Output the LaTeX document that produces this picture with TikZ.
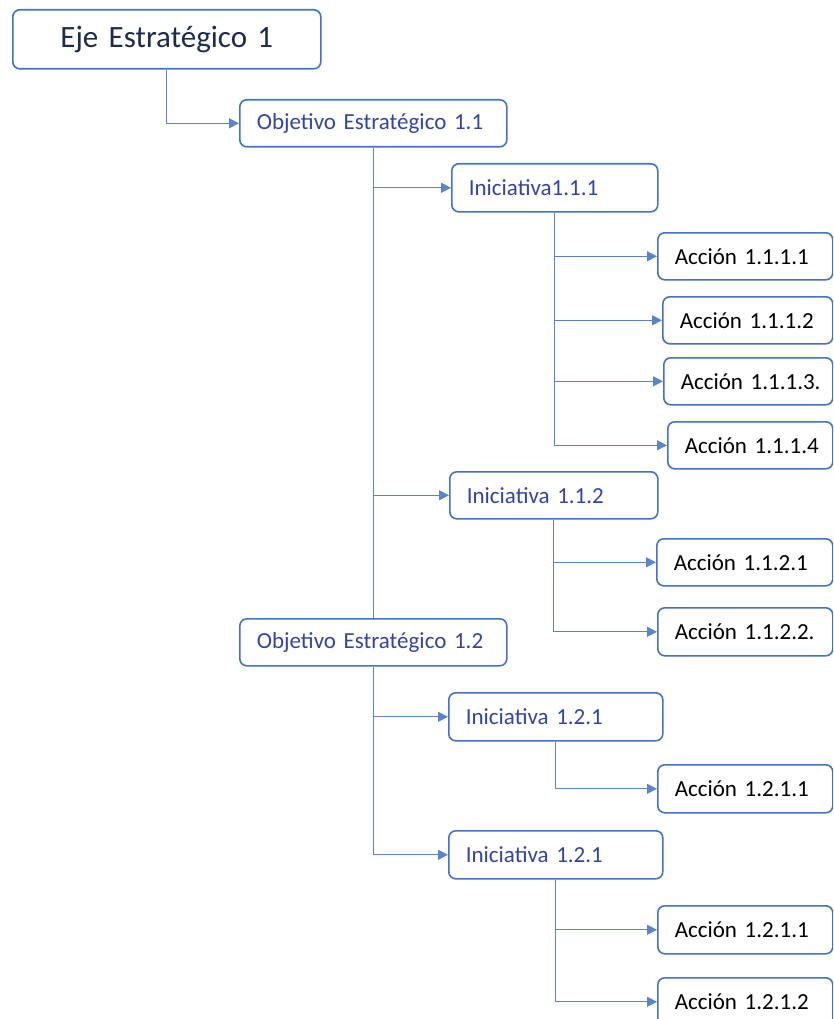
\documentclass[tikz,border=0pt]{standalone}
\usepackage{fontspec}
\setmainfont{Carlito}
\usetikzlibrary{arrows.meta}
\definecolor{bord}{HTML}{4472C4}
\definecolor{conncol}{HTML}{5B84CC}
\definecolor{navy}{HTML}{1E2C4C}
\definecolor{objtxt}{HTML}{3445A0}
\tikzset{
  box/.style={draw=bord, line width=1.6pt, rounded corners=7pt, fill=white,
    anchor=north west, inner xsep=17pt, inner ysep=0pt, align=left,
    font=\fontsize{23}{27}\selectfont},
  toptxt/.style={box, align=center, text=navy, font=\fontsize{31}{36}\selectfont},
  objbox/.style={box, text=objtxt},
  accbox/.style={box, text=black},
  conn/.style={draw=conncol, line width=1.2pt, -{Triangle[length=10pt,width=10pt]}},
  plain/.style={draw=conncol, line width=1.2pt}
}
\begin{document}
\begin{tikzpicture}[x=1pt,y=-1pt]
\useasboundingbox (0,0) rectangle (833,1019);
\clip (0,0) rectangle (833,1019);
% boxes
\node[toptxt, text width=274pt, minimum height=59pt] (eje) at (12,9) {Eje Estratégico 1};
\node[objbox, text width=233pt, minimum height=47pt] (o11) at (239,99) {\mbox{Objetivo Estratégico 1.1}};
\node[objbox, text width=172pt, minimum height=48pt] (i111) at (451,163) {\mbox{Iniciativa1.1.1}};
\node[accbox, text width=141pt, minimum height=47pt] (a1111) at (657,232) {\mbox{Acción 1.1.1.1}};
\node[accbox, text width=136pt, minimum height=47pt] (a1112) at (662,296) {\mbox{Acción 1.1.1.2}};
\node[accbox, text width=135pt, minimum height=47pt] (a1113) at (663,357) {\mbox{Acción 1.1.1.3.}};
\node[accbox, text width=131pt, minimum height=47pt] (a1114) at (667,421) {\mbox{Acción 1.1.1.4}};
\node[objbox, text width=174pt, minimum height=47pt] (i112) at (449,471) {\mbox{Iniciativa 1.1.2}};
\node[accbox, text width=142pt, minimum height=47pt] (a1121) at (656,538) {\mbox{Acción 1.1.2.1}};
\node[accbox, text width=141pt, minimum height=48pt] (a1122) at (657,607) {\mbox{Acción 1.1.2.2.}};
\node[objbox, text width=233pt, minimum height=47pt] (o12) at (239,618) {\mbox{Objetivo Estratégico 1.2}};
\node[objbox, text width=180pt, minimum height=48pt] (i121) at (448,692) {\mbox{Iniciativa 1.2.1}};
\node[accbox, text width=141pt, minimum height=48pt] (a1211) at (657,764) {\mbox{Acción 1.2.1.1}};
\node[objbox, text width=180pt, minimum height=48pt] (i121b) at (448,830) {\mbox{Iniciativa 1.2.1}};
\node[accbox, text width=141pt, minimum height=48pt] (a1211b) at (657,905) {\mbox{Acción 1.2.1.1}};
\node[accbox, text width=141pt, minimum height=48pt] (a1212) at (657,977) {\mbox{Acción 1.2.1.2}};
% connectors
\draw[conn] (eje.south) |- (o11.west);
\draw[plain] (o11.south) -- (o12.north);
\draw[conn] (o11.south) |- (i111.west);
\draw[conn] (o11.south) |- (i112.west);
\draw[conn] (i111.south) |- (a1111.west);
\draw[conn] (i111.south) |- (a1112.west);
\draw[conn] (i111.south) |- (a1113.west);
\draw[conn] (i111.south) |- (a1114.west);
\draw[conn] (i112.south) |- (a1121.west);
\draw[conn] (i112.south) |- (a1122.west);
\draw[conn] (o12.south) |- (i121.west);
\draw[conn] (o12.south) |- (i121b.west);
\draw[conn] (i121.south) |- (a1211.west);
\draw[conn] (i121b.south) |- (a1211b.west);
\draw[conn] (i121b.south) |- (a1212.west);
\end{tikzpicture}
\end{document}
